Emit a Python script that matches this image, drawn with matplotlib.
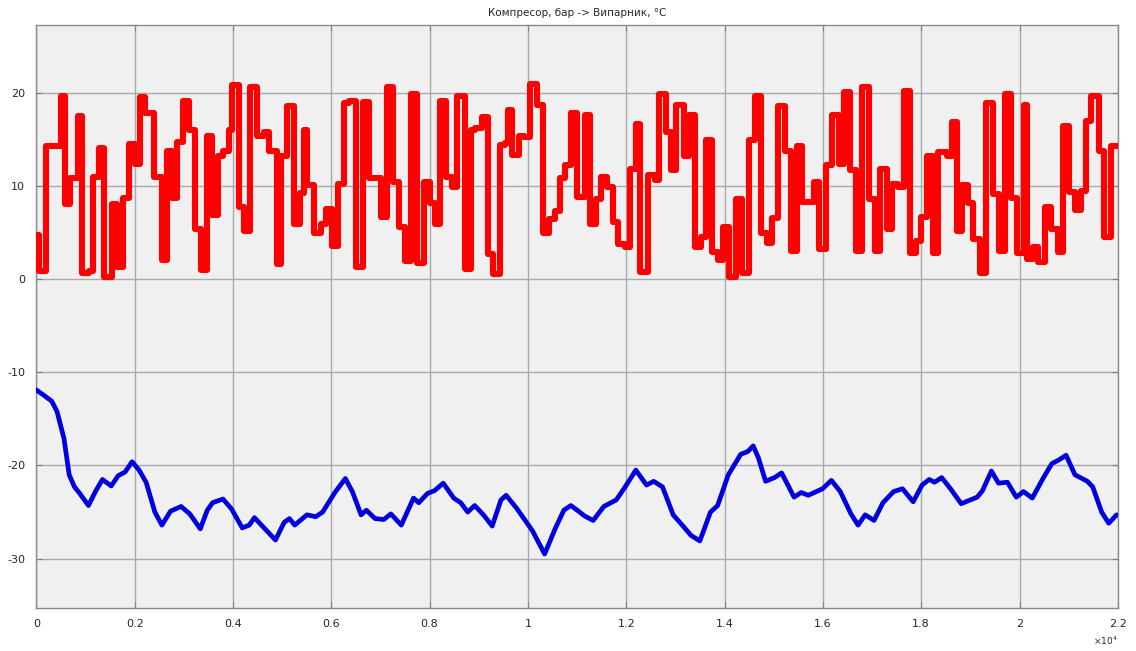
import numpy as np
import matplotlib.pyplot as plt
from matplotlib.ticker import FuncFormatter

plt.rcParams['axes.unicode_minus'] = False

# Компресор (червоний, ступінчастий сигнал): моменти перемикання та рівні
red_t = [0, 55, 205, 498, 587, 683, 840, 928, 1065, 1160, 1283, 1386, 1543, 1638, 1761, 1884,
         2000, 2102, 2205, 2389, 2546, 2648, 2751, 2853, 2976, 3113, 3229, 3345, 3468, 3570,
         3686, 3795, 3911, 3980, 4116, 4232, 4341, 4492, 4628, 4730, 4901, 4983, 5106, 5242,
         5365, 5440, 5509, 5645, 5782, 5884, 6007, 6143, 6259, 6362, 6498, 6635, 6771, 6922,
         7010, 7126, 7249, 7386, 7509, 7625, 7741, 7877, 8014, 8102, 8205, 8341, 8464, 8560,
         8717, 8833, 8922, 9058, 9195, 9297, 9434, 9536, 9604, 9672, 9809, 9911, 10048, 10184,
         10307, 10423, 10560, 10662, 10764, 10867, 11003, 11154, 11269, 11377, 11492, 11607,
         11729, 11831, 11966, 12068, 12190, 12284, 12440, 12575, 12663, 12812, 12914, 13016,
         13185, 13286, 13408, 13523, 13625, 13747, 13862, 13977, 14099, 14234, 14356, 14491,
         14610, 14740, 14860, 14965, 15080, 15230, 15360, 15465, 15575, 15820, 15925, 16070,
         16190, 16325, 16420, 16556, 16680, 16805, 16940, 17060, 17170, 17295, 17400, 17520,
         17643, 17778, 17885, 18005, 18125, 18250, 18350, 18519, 18620, 18721, 18835, 18956,
         19057, 19192, 19327, 19461, 19576, 19697, 19832, 19953, 20088, 20155, 20269, 20370,
         20518, 20640, 20774, 20875, 21010, 21125, 21246, 21347, 21461, 21616, 21717, 21852]
red_v = [4.7, 0.9, 14.3, 19.6, 8.1, 10.9, 17.5, 0.7, 0.9, 11.0, 14.1, 0.2, 8.1, 1.3, 8.7, 14.5,
         12.4, 19.5, 17.8, 11.0, 2.0, 13.8, 8.7, 14.7, 19.1, 16.0, 5.4, 1.0, 15.4, 6.9,
         13.2, 13.8, 16.0, 20.8, 7.7, 5.2, 20.6, 15.4, 15.8, 13.8, 1.6, 13.2, 18.6, 5.9,
         9.2, 16.0, 10.1, 5.0, 5.9, 7.5, 3.6, 10.2, 18.9, 19.1, 1.3, 19.0, 10.9, 10.8,
         6.7, 20.6, 10.4, 5.6, 1.9, 19.9, 1.7, 10.4, 8.2, 5.9, 19.1, 11.0, 9.9, 19.6,
         1.1, 16.0, 16.2, 17.4, 2.7, 0.5, 14.4, 14.6, 18.2, 13.3, 15.4, 15.3, 20.9, 18.7,
         5.0, 6.5, 7.3, 10.9, 12.3, 17.8, 8.8, 17.6, 5.9, 8.6, 11.0, 9.9,
         6.1, 3.8, 3.4, 11.8, 16.7, 0.8, 11.2, 10.6, 19.9, 15.8, 11.7, 18.7,
         13.2, 17.6, 3.5, 4.5, 14.9, 2.9, 2.0, 5.6, 0.2, 8.6, 0.7, 14.9,
         19.6, 5.0, 3.9, 6.6, 18.6, 13.8, 3.0, 14.3, 8.3, 10.4, 3.2, 12.2,
         17.6, 12.4, 20.1, 11.7, 3.0, 20.6, 8.6, 3.0, 11.8, 5.4, 10.2, 9.9,
         20.2, 2.8, 4.1, 6.7, 13.2, 2.8, 13.6, 13.2, 16.9, 5.2, 10.1, 8.2,
         4.3, 0.7, 18.9, 9.1, 3.0, 19.9, 8.7, 2.8, 18.7, 2.2, 3.4, 1.8,
         7.7, 5.4, 2.9, 16.4, 9.4, 7.4, 9.5, 17.0, 19.6, 13.8, 4.5, 14.3]

# Випарник (синя крива)
blue_t = [0, 135, 313, 420, 562, 668, 775, 882, 1060, 1202, 1344, 1522, 1664, 1806, 1948, 2091,
          2233, 2411, 2553, 2731, 2944, 3122, 3335, 3477, 3584, 3797, 3975, 4188, 4331, 4437,
          4651, 4864, 5042, 5148, 5255, 5504, 5682, 5824, 6073, 6286, 6428, 6606, 6713, 6891,
          7068, 7211, 7424, 7673, 7780, 7957, 8100, 8277, 8491, 8633, 8775, 8917, 9095, 9273,
          9451, 9557, 9771, 10091, 10340, 10553, 10731, 10873, 11002, 11146, 11327, 11544,
          11797, 11978, 12195, 12412, 12557, 12738, 12955, 13172, 13316, 13497, 13714, 13859,
          14076, 14329, 14474, 14582, 14690, 14835, 15016, 15161, 15414, 15559, 15703, 15993,
          16173, 16354, 16571, 16716, 16861, 17041, 17222, 17439, 17620, 17837, 18018, 18162,
          18271, 18416, 18597, 18814, 19139, 19247, 19428, 19573, 19754, 19935, 20080, 20260,
          20477, 20658, 20803, 20947, 21128, 21381, 21490, 21671, 21815, 21974]
blue_v = [-11.9, -12.4, -13.1, -14.2, -17.1, -21.0, -22.3, -23.0, -24.3, -22.8, -21.5, -22.2,
          -21.1, -20.7, -19.6, -20.5, -21.8, -25.0, -26.4, -24.9, -24.4, -25.2, -26.8, -24.8,
          -24.0, -23.6, -24.7, -26.7, -26.4, -25.6, -26.8, -28.0, -26.1, -25.7, -26.4, -25.3,
          -25.5, -25.0, -22.9, -21.4, -22.8, -25.3, -24.8, -25.7, -25.8, -25.2, -26.4, -23.5,
          -24.0, -23.0, -22.7, -21.9, -23.5, -24.0, -25.0, -24.3, -25.3, -26.5, -23.7, -23.2,
          -24.6, -27.0, -29.5, -26.8, -24.8, -24.3, -24.8, -25.4, -25.9, -24.4,
          -23.7, -22.3, -20.5, -22.1, -21.7, -22.3, -25.3, -26.6, -27.5, -28.1, -25.0, -24.3,
          -21.0, -18.8, -18.5, -17.9, -19.2, -21.7, -21.3, -20.8, -23.4, -22.9, -23.2, -22.5,
          -21.6, -22.8, -25.2, -26.4, -25.3, -25.9, -24.0, -22.8, -22.5, -23.9, -22.1, -21.5,
          -21.8, -21.3, -22.5, -24.1, -23.4, -22.7, -20.6, -21.9, -21.8, -23.4, -22.8, -23.5,
          -21.4, -19.8, -19.4, -18.9, -21.0, -21.7, -22.3, -25.0, -26.2, -25.3]

x_ticks = [0, 2000, 4000, 6000, 8000, 10000, 12000, 14000, 16000, 18000, 20000, 22000]
y_ticks = [-30, -20, -10, 0, 10, 20]

fig = plt.figure(figsize=(11.36, 6.51), dpi=100)
ax = fig.add_axes([0.032, 0.066, 0.952, 0.896])
ax.set_facecolor('#f0f0f0')

# ступінчастий сигнал доводимо до кінця інтервалу
rt = red_t + [22000]
rv = red_v + [red_v[-1]]
ax.step(rt, rv, where='post', color='#ff0000', lw=4.4, solid_joinstyle='round', zorder=3)
ax.plot(blue_t, blue_v, color='#0000dd', lw=3.4, solid_joinstyle='round', solid_capstyle='round', zorder=3)

ax.set_xlim(0, 22000)
ax.set_ylim(-35.3, 27.3)
ax.set_xticks(x_ticks)
ax.set_yticks(y_ticks)
ax.xaxis.set_major_formatter(FuncFormatter(lambda v, p: '%g' % (v / 1e4)))
ax.grid(True, color='#a9a9a9', lw=1.0)
ax.set_axisbelow(True)
ax.tick_params(direction='in', top=True, right=True, length=4, width=0.8,
               colors='#808080', labelcolor='#262626', labelsize=8, pad=8)
for s in ax.spines.values():
    s.set_color('#8a8a8a')
    s.set_linewidth(1.0)

ax.set_title('Компресор, бар -> Випарник, °C', fontsize=7.5, color='#262626', pad=6)
ax.text(1.0, -0.056, r'$\times10^4$', transform=ax.transAxes, ha='right', va='center',
        fontsize=6.5, color='#262626')

fig.savefig('out.png', dpi=100)
